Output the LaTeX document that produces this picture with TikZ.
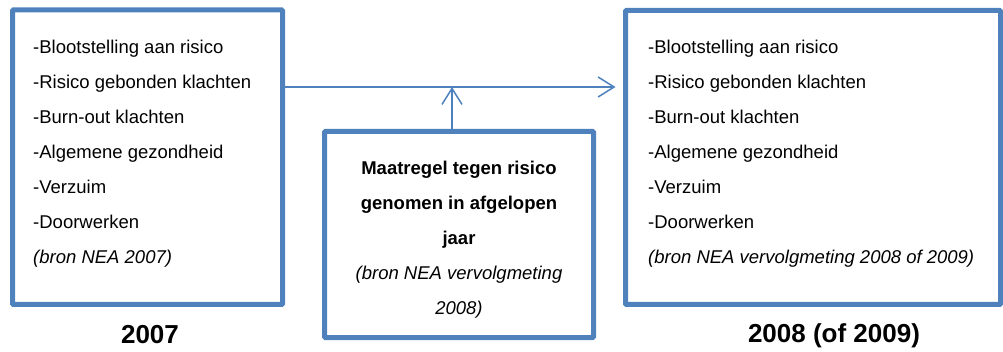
\documentclass[tikz,border=0pt]{standalone}
\usepackage{fontspec}
\setmainfont{Liberation Sans}
\usetikzlibrary{arrows.meta}
\definecolor{boxblue}{HTML}{4F81BD}
\begin{document}
\begin{tikzpicture}[x=1pt,y=-1pt,
  panel/.style={draw=boxblue, line width=5pt, inner sep=0pt, outer sep=0pt, rounded corners=1pt},
  list/.style={inner sep=0pt, anchor=north west, align=left, font=\fontsize{18.5}{35}\selectfont},
  midtext/.style={inner sep=0pt, anchor=north, align=center, font=\fontsize{18.5}{35}\selectfont},
  year/.style={inner sep=0pt, font=\fontsize{26}{30}\selectfont\bfseries},
  link/.style={draw=boxblue, line width=1.5pt, -{Straight Barb[length=16pt,width=20pt]}}]
\useasboundingbox (0,0) rectangle (1003,352);
\node[panel, minimum width=270pt, minimum height=294.5pt] (L) at (147.5,157.25) {};
\node[panel, minimum width=375pt, minimum height=294pt] (R) at (813,157.5) {};
\node[panel, minimum width=269pt, minimum height=206pt] (M) at (459,234.5) {};
\node[list] (Ltext) at (33,40) {-Blootstelling aan risico\\-Risico gebonden klachten\\-Burn-out klachten\\-Algemene gezondheid\\-Verzuim\\-Doorwerken\\\textit{(bron NEA 2007)}};
\node[list] (Rtext) at (648,40) {-Blootstelling aan risico\\-Risico gebonden klachten\\-Burn-out klachten\\-Algemene gezondheid\\-Verzuim\\-Doorwerken\\\textit{(bron NEA vervolgmeting 2008 of 2009)}};
\node[midtext] (Mtext) at (459,161) {\textbf{Maatregel tegen risico}\\\textbf{genomen in afgelopen}\\\textbf{jaar}\\\textit{(bron NEA vervolgmeting}\\\textit{2008)}};
\node[year] (Y1) at (150,335) {2007};
\node[year] (Y2) at (834,336) {2008 (of 2009)};
\coordinate (h) at (0,87);
\draw[link, shorten >=10pt] (L.east |- h) -- (R.west |- h);
\draw[link] ([xshift=-7pt]M.north) -- ([xshift=-7pt]M.north |- h);
\end{tikzpicture}
\end{document}
